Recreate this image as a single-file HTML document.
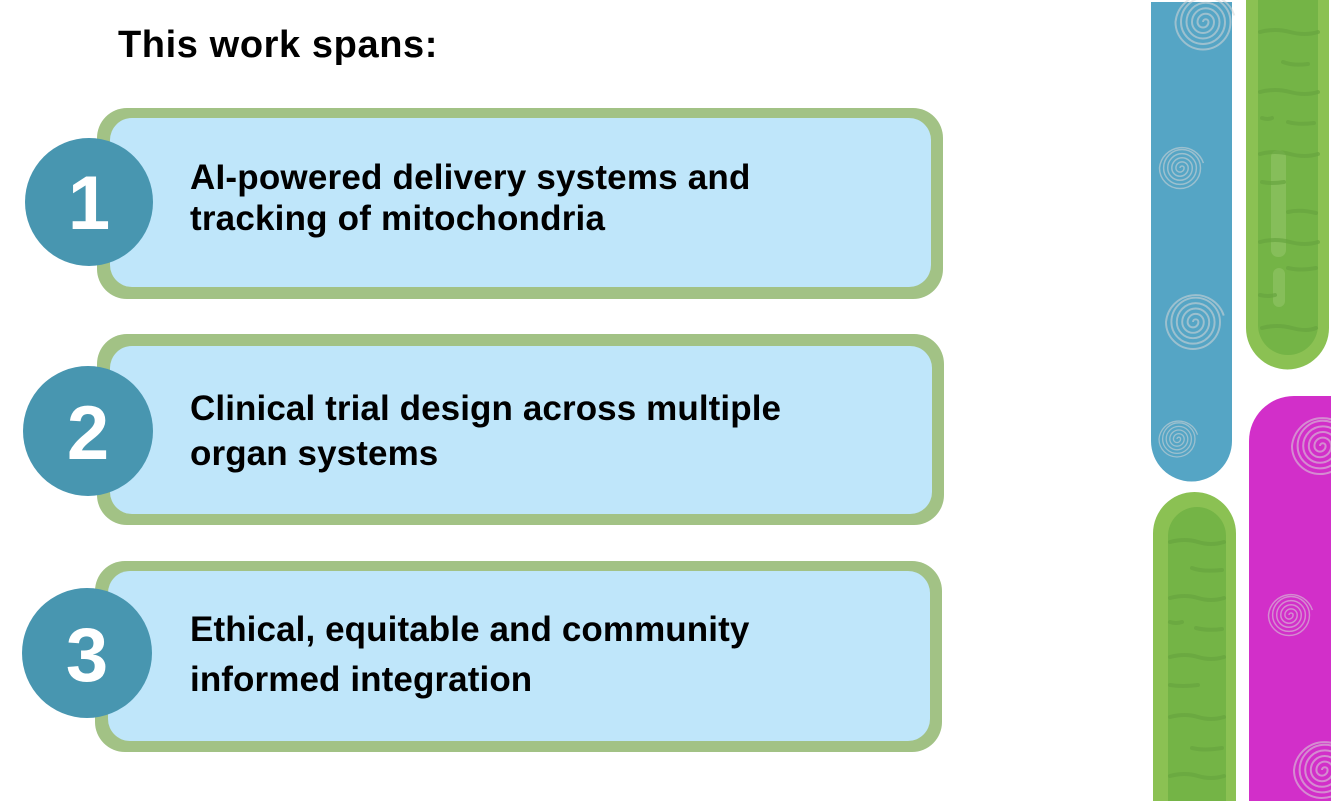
<!DOCTYPE html>
<html>
<head>
<meta charset="utf-8">
<style>
  html,body{margin:0;padding:0;background:#ffffff;}
  body{width:1331px;height:801px;overflow:hidden;}
  svg{display:block;}
  .t{font-family:"Liberation Sans",Arial,sans-serif;font-weight:bold;fill:#000;}
  .n{font-family:"Liberation Sans",Arial,sans-serif;font-weight:bold;fill:#fff;}
</style>
</head>
<body>
<svg width="1331" height="801" viewBox="0 0 1331 801" xmlns="http://www.w3.org/2000/svg">
  <defs>
    <path id="sp" fill="none" d="M0,0 A2.5,2.5 0 0 1 5,0 A5,5 0 0 1 -5,0 A7.5,7.5 0 0 1 10,0 A10,10 0 0 1 -10,0 A12.5,12.5 0 0 1 15,0 A15,15 0 0 1 -15,0 A17.5,17.5 0 0 1 20,0 A20,20 0 0 1 -20,0 A22.5,22.5 0 0 1 25,0 A25,25 0 0 1 -25,0 A27.5,27.5 0 0 1 28.5,-6"/>
  </defs>

  <!-- Title -->
  <text class="t" x="118" y="57" font-size="38" letter-spacing="0.6">This work spans:</text>

  <!-- Box 1 -->
  <rect x="97" y="108" width="846" height="191" rx="30" fill="#A2C285"/>
  <rect x="110" y="118" width="821" height="169" rx="22" fill="#BFE6FA"/>
  <circle cx="89" cy="202" r="64" fill="#4896B0"/>
  <text class="n" x="89" y="229" font-size="76" text-anchor="middle">1</text>
  <text class="t" x="190" y="189" font-size="35" letter-spacing="0.2">AI-powered delivery systems and</text>
  <text class="t" x="190" y="230" font-size="35" letter-spacing="0.2">tracking of mitochondria</text>

  <!-- Box 2 -->
  <rect x="97" y="334" width="847" height="191" rx="30" fill="#A2C285"/>
  <rect x="110" y="346" width="822" height="168" rx="22" fill="#BFE6FA"/>
  <circle cx="88" cy="431" r="65" fill="#4896B0"/>
  <text class="n" x="88" y="459" font-size="76" text-anchor="middle">2</text>
  <text class="t" x="190" y="420" font-size="35" letter-spacing="0.1">Clinical trial design across multiple</text>
  <text class="t" x="190" y="465" font-size="35" letter-spacing="0.1">organ systems</text>

  <!-- Box 3 -->
  <rect x="95" y="561" width="847" height="191" rx="30" fill="#A2C285"/>
  <rect x="108" y="571" width="822" height="170" rx="22" fill="#BFE6FA"/>
  <circle cx="87" cy="653" r="65" fill="#4896B0"/>
  <text class="n" x="87" y="681" font-size="76" text-anchor="middle">3</text>
  <text class="t" x="190" y="641" font-size="35" letter-spacing="0.1">Ethical, equitable and community</text>
  <text class="t" x="190" y="691" font-size="35" letter-spacing="0.1">informed integration</text>

  <!-- Right decoration: blue bar -->
  <path d="M1151,2 H1232 V441 A40.5,40.5 0 0 1 1151,441 Z" fill="#55A5C5"/>

  <!-- Top green pill -->
  <path d="M1246,-10 H1329 V328 A41.5,41.5 0 0 1 1246,328 Z" fill="#8BC153"/>
  <path d="M1258,-10 H1318 V325 A30,30 0 0 1 1258,325 Z" fill="#74B446"/>
  <rect x="1271" y="150" width="15" height="107" rx="7" fill="#86BE5A"/>
  <rect x="1273" y="268" width="12" height="39" rx="6" fill="#86BE5A"/>
  <g fill="none" stroke="#68A53F" stroke-width="4" stroke-linecap="round" opacity="0.7">
    <path d="M1260,32 q15,-4 30,0 t28,0"/>
    <path d="M1283,62 q10,4 25,2"/>
    <path d="M1260,92 q15,-4 30,0 t28,0"/>
    <path d="M1262,118 q6,2 10,0"/>
    <path d="M1288,122 q10,3 26,1"/>
    <path d="M1260,154 q15,-4 30,0 t28,0"/>
    <path d="M1262,182 q10,2 22,0"/>
    <path d="M1288,212 q12,-3 28,1"/>
    <path d="M1260,242 q15,-4 30,0 t28,0"/>
    <path d="M1288,268 q12,3 28,0"/>
    <path d="M1260,295 q8,2 15,0"/>
    <path d="M1262,328 q15,-4 30,0 t24,0"/>
  </g>

  <!-- Magenta bar -->
  <path d="M1249,801 V441 A45,45 0 0 1 1294,396 H1345 V801 Z" fill="#D22FC9"/>

  <!-- Bottom green pill -->
  <path d="M1153,810 V533.5 A41.5,41.5 0 0 1 1236,533.5 V810 Z" fill="#8BC153"/>
  <path d="M1168,810 V536 A29,29 0 0 1 1226,536 V810 Z" fill="#74B446"/>
  <g fill="none" stroke="#68A53F" stroke-width="4" stroke-linecap="round" opacity="0.7">
    <path d="M1170,542 q15,-4 28,0 t26,0"/>
    <path d="M1192,568 q10,4 30,2"/>
    <path d="M1170,598 q15,-4 28,0 t26,0"/>
    <path d="M1170,622 q6,2 12,0"/>
    <path d="M1196,628 q12,3 26,1"/>
    <path d="M1170,657 q15,-4 28,0 t26,0"/>
    <path d="M1170,685 q12,2 28,0"/>
    <path d="M1170,717 q15,-4 28,0 t26,0"/>
    <path d="M1192,748 q12,3 30,0"/>
    <path d="M1170,776 q15,-4 28,0 t26,0"/>
  </g>

  <!-- Spirals -->
  <g stroke="rgba(215,215,215,0.55)" stroke-width="1.8">
    <use href="#sp" transform="translate(1203,22) scale(1.1)"/>
    <use href="#sp" transform="translate(1180,168) scale(0.82)"/>
    <use href="#sp" transform="translate(1193,322) scale(1.08)"/>
    <use href="#sp" transform="translate(1177,439) scale(0.72)"/>
    <use href="#sp" transform="translate(1320,446) scale(1.12)"/>
    <use href="#sp" transform="translate(1289,615) scale(0.82)"/>
    <use href="#sp" transform="translate(1322,770) scale(1.12)"/>
  </g>
</svg>
</body>
</html>
